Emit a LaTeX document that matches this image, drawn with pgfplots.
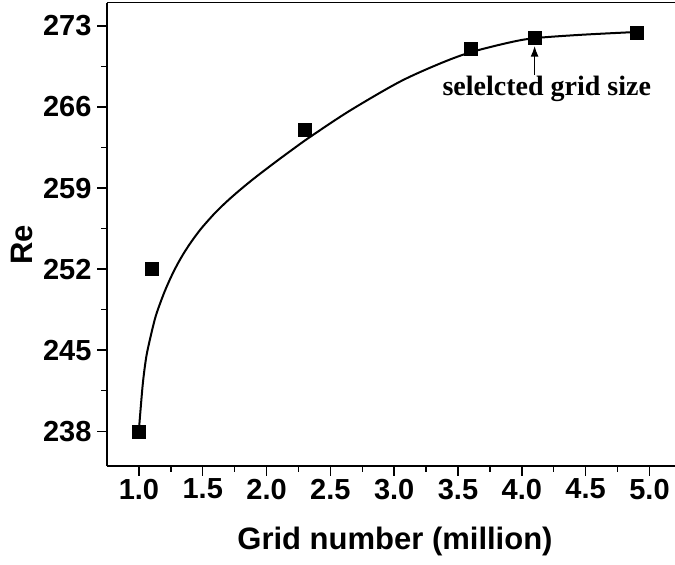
\documentclass[border=0pt]{standalone}
\usepackage{pgfplots}
\pgfplotsset{compat=1.18}
\usetikzlibrary{arrows.meta}
\usepackage{fontspec}
\setmainfont{Liberation Sans}
\newfontfamily\timesfont{Liberation Serif}
\begin{document}
\begin{tikzpicture}
\useasboundingbox (-107pt,-99pt) rectangle (568pt,466pt);
\begin{axis}[
  at={(0pt,0pt)}, anchor=south west,
  scale only axis, width=568pt, height=463.3pt,
  xmin=0.75, xmax=5.2, ymin=235, ymax=275,
  xtick={1,1.5,2,2.5,3,3.5,4,4.5,5},
  ytick={238,245,252,259,266,273},
  minor x tick num=1, minor y tick num=1,
  axis x line*=bottom, axis y line*=left,
  tick align=outside,
  major tick length=9.5pt, minor tick length=5.5pt,
  every tick/.style={black, line width=1.4pt},
  axis line style={line width=1.5pt},
  clip=false,
  /pgf/number format/assume math mode=true,
  x tick label style={font=\fontsize{29}{29}\selectfont\bfseries,
    /pgf/number format/.cd, fixed, fixed zerofill, precision=1},
  y tick label style={font=\fontsize{29}{29}\selectfont\bfseries, xshift=-2.5pt},
  xlabel={Grid number (million)}, ylabel={Re},
  x label style={font=\fontsize{31}{31}\selectfont\bfseries,
    at={(axis description cs:0.507,-0.163)}, anchor=center},
  y label style={font=\fontsize{31}{31}\selectfont\bfseries,
    at={(axis description cs:-0.150,0.477)}, anchor=center},
]
\addplot[black, line width=2pt, smooth] coordinates {
(1.000,238.00) (1.005,238.80) (1.031,242.15) (1.058,244.44) (1.090,246.10)
(1.123,247.60) (1.150,248.55) (1.200,250.02) (1.250,251.28) (1.300,252.38)
(1.350,253.34) (1.400,254.19) (1.450,254.96) (1.500,255.66) (1.600,256.89)
(1.700,257.95) (1.800,258.91) (1.900,259.81) (2.000,260.66) (2.100,261.49)
(2.200,262.30) (2.337,263.38) (2.650,265.66) (3.041,268.16) (3.355,269.73)
(3.590,270.69) (3.877,271.50) (4.085,271.92) (4.451,272.22) (4.895,272.47)
};
\addplot[only marks, mark=square*, mark size=6.5pt, black] coordinates {
(1.0,238) (1.1,252) (2.3,264) (3.6,271) (4.1,272) (4.9,272.4)
};
\draw[line width=1.5pt] (rel axis cs:0,1) -- (rel axis cs:1,1);
\draw[-{Latex[length=11pt,width=8pt]}, line width=1.8pt] (axis cs:4.1,268.8) -- (axis cs:4.1,271.3);
\node[font=\timesfont\bfseries\fontsize{28}{28}\selectfont] at (axis cs:4.195,267.58) {selelcted grid size};
\end{axis}
\end{tikzpicture}
\end{document}
